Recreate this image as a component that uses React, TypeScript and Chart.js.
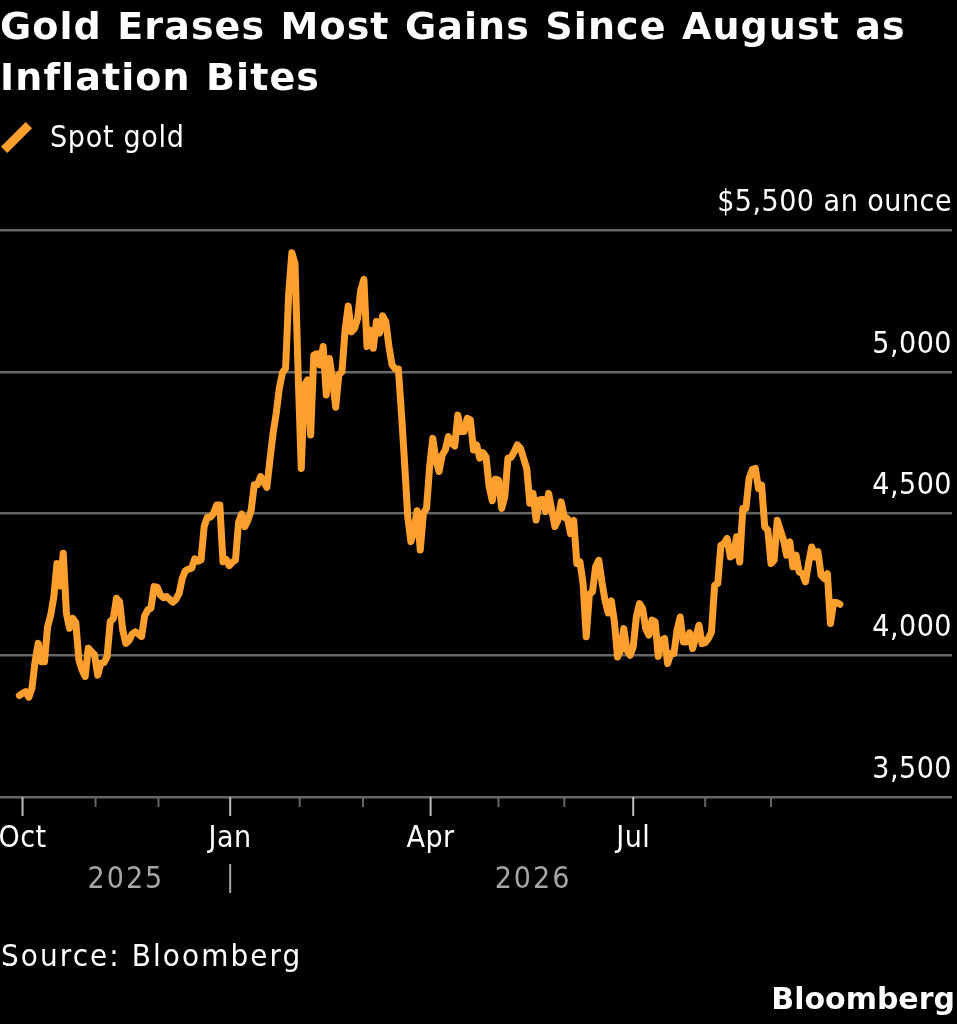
import React, { useEffect, useRef } from 'react';
import Chart from 'chart.js/auto';

const FONT = '"DejaVu Sans Condensed", "DejaVu Sans", sans-serif';
const BOLD_FONT = '"DejaVu Sans", sans-serif';
const GRID = '#666666';
const GOLD = '#ff9f2d';

// one price per weekday, the first one falls one weekday before Oct 1 2025
const firstDay = -1;
const goldPrices = [
  3858, 3866, 3872, 3852, 3883, 3977, 4042, 3977, 3977, 4101, 4142, 4207, 4324, 4244, 4360, 4148, 4095, 4130, 4115, 3983,
  3948, 3925, 4025, 4013, 4001, 3930, 3972, 3974, 3995, 4119, 4130, 4201, 4189, 4089, 4042, 4052, 4075, 4083, 4075, 4066,
  4139, 4160, 4166, 4242, 4240, 4213, 4203, 4207, 4197, 4187, 4197, 4218, 4271, 4298, 4304, 4307, 4340, 4332, 4336, 4454,
  4487, 4487, 4501, 4530, 4530, 4330, 4338, 4316, 4328, 4336, 4471, 4498, 4454, 4477, 4512, 4601, 4601, 4630, 4612, 4592,
  4689, 4783, 4853, 4942, 4997, 5012, 5277, 5420, 5382, 4994, 4659, 4953, 4971, 4777, 5059, 5063, 5024, 5089, 4918, 5047,
  4971, 4875, 4989, 5000, 5147, 5232, 5141, 5153, 5188, 5288, 5326, 5089, 5147, 5083, 5177, 5136, 5197, 5177, 5089, 5024,
  5010, 5010, 4853, 4677, 4489, 4401, 4442, 4510, 4371, 4501, 4518, 4665, 4765, 4689, 4648, 4706, 4724, 4771, 4748, 4738,
  4847, 4789, 4789, 4836, 4830, 4724, 4742, 4695, 4715, 4700, 4595, 4545, 4621, 4618, 4518, 4559, 4695, 4698, 4718, 4742,
  4730, 4695, 4659, 4536, 4571, 4477, 4548, 4550, 4507, 4571, 4512, 4454, 4477, 4541, 4486, 4482, 4429, 4476, 4324, 4329,
  4253, 4065, 4215, 4224, 4312, 4335, 4259, 4194, 4149, 4192, 4118, 3994, 4018, 4094, 4018, 4000, 4029, 4135, 4182, 4165,
  4094, 4071, 4124, 4118, 3996, 4053, 4059, 3971, 4006, 4006, 4088, 4135, 4047, 4047, 4079, 4024, 4065, 4106, 4041, 4045,
  4059, 4082, 4247, 4253, 4388, 4394, 4412, 4347, 4353, 4418, 4329, 4518, 4518, 4624, 4655, 4659, 4588, 4600, 4453, 4441,
  4324, 4335, 4476, 4441, 4406, 4353, 4400, 4312, 4353, 4294, 4288, 4259, 4324, 4382, 4347, 4365, 4282, 4271, 4288, 4112,
  4186, 4186, 4180,
];

// where each month starts on the weekday axis, from Oct 2025 to Sep 2026
const monthDays = [0, 23.3, 43.4, 66.3, 88.5, 108.7, 130.3, 152, 173, 195, 218, 239];
const monthLabels = ['Oct', '', '', 'Jan', '', '', 'Apr', '', '', 'Jul', '', ''];
const yearLabels = ['2025', '2026'];
const yearCenters = [33, 163];
const yearBreak = 66.3;
const priceTicks = [3500, 4000, 4500, 5000, 5500];

const axisExtras = {
  id: 'axisExtras',
  beforeDraw(chart: any) {
    chart.ctx.letterSpacing = '0.5px';
  },
  afterDraw(chart: any) {
    const { ctx, scales } = chart;
    const x = scales.x;
    const base = x.top;
    ctx.save();
    monthDays.forEach((day, i) => {
      const px = x.getPixelForValue(day);
      const major = monthLabels[i] !== '';
      ctx.strokeStyle = major ? '#bdbdbd' : GRID;
      ctx.lineWidth = 2;
      ctx.beginPath();
      ctx.moveTo(px, base);
      ctx.lineTo(px, base + (major ? 19 : 10));
      ctx.stroke();
    });
    ctx.font = '30px ' + FONT;
    ctx.letterSpacing = '2px';
    ctx.fillStyle = '#a6a6a6';
    ctx.textAlign = 'center';
    ctx.textBaseline = 'middle';
    yearLabels.forEach((label, i) => {
      ctx.fillText(label, x.getPixelForValue(yearCenters[i]), base + 83);
    });
    const sep = x.getPixelForValue(yearBreak);
    ctx.strokeStyle = '#a6a6a6';
    ctx.beginPath();
    ctx.moveTo(sep, base + 67);
    ctx.lineTo(sep, base + 96);
    ctx.stroke();
    ctx.restore();
  },
};

function GoldChart() {
  const canvasRef = useRef<HTMLCanvasElement>(null);

  useEffect(() => {
    const chart = new Chart(canvasRef.current, {
      type: 'line',
      data: {
        datasets: [
          {
            label: 'Spot gold',
            data: goldPrices.map((y, i) => ({ x: i + firstDay, y })),
            borderColor: GOLD,
            borderWidth: 7,
            borderJoinStyle: 'round',
            borderCapStyle: 'round',
            pointRadius: 0,
            tension: 0,
          },
        ],
      },
      options: {
        animation: false,
        responsive: false,
        layout: { padding: { top: 230, left: 0, right: 0, bottom: 0 } },
        plugins: { legend: { display: false }, title: { display: false }, tooltip: { enabled: false } },
        scales: {
          x: {
            type: 'linear',
            min: -7.2,
            max: 296.8,
            afterBuildTicks: (scale: any) => {
              scale.ticks = monthDays.map((value) => ({ value }));
            },
            afterFit: (scale: any) => {
              scale.height = 227;
              scale.paddingLeft = 0;
              scale.paddingRight = 0;
            },
            grid: { display: false, drawTicks: false },
            border: { display: false },
            ticks: {
              autoSkip: false,
              maxRotation: 0,
              padding: 24,
              color: '#ffffff',
              font: { family: FONT, size: 30 },
              callback: (value: any) => monthLabels[monthDays.indexOf(value)] ?? '',
            },
          },
          y: {
            type: 'linear',
            position: 'right',
            min: 3500,
            max: 5500,
            afterBuildTicks: (scale: any) => {
              scale.ticks = priceTicks.map((value) => ({ value }));
            },
            afterFit: (scale: any) => {
              scale.width = 5;
            },
            grid: { color: GRID, lineWidth: 2.5, drawTicks: false },
            border: { display: false },
            ticks: {
              mirror: true,
              padding: 0,
              labelOffset: -27,
              color: '#ffffff',
              font: { family: FONT, size: 30 },
              callback: (value: any) =>
                value === 5500 ? '$5,500 an ounce' : value.toLocaleString('en-US'),
            },
          },
        },
      },
      plugins: [axisExtras],
    });
    return () => chart.destroy();
  }, []);

  return <canvas ref={canvasRef} width={957} height={1024} style={{ position: 'absolute', left: 0, top: 0 }} />;
}

const textStyle: React.CSSProperties = {
  position: 'absolute',
  color: '#fff',
  fontFamily: FONT,
  whiteSpace: 'nowrap',
};

export default function App() {
  useEffect(() => {
    document.body.style.margin = '0';
    document.body.style.background = '#000';
  }, []);

  return (
    <div style={{ position: 'relative', width: 957, height: 1024, background: '#000', overflow: 'hidden' }}>
      <GoldChart />
      <div
        style={{
          ...textStyle,
          left: 0,
          top: 1,
          fontFamily: BOLD_FONT,
          fontSize: 38,
          fontWeight: 700,
          lineHeight: '51px',
          letterSpacing: 1.1,
          wordSpacing: 1,
        }}
      >
        Gold Erases Most Gains Since August as
        <br />
        Inflation Bites
      </div>
      <div
        style={{
          position: 'absolute',
          left: -1,
          top: 133,
          width: 35,
          height: 9,
          background: GOLD,
          transform: 'rotate(-45deg)',
        }}
      />
      <div style={{ ...textStyle, left: 50, top: 119, fontSize: 30, letterSpacing: 0.7 }}>Spot gold</div>
      <div style={{ ...textStyle, left: 1, top: 937, fontSize: 31, letterSpacing: 2.1 }}>Source: Bloomberg</div>
      <div style={{ ...textStyle, right: 2, top: 981, fontFamily: BOLD_FONT, fontSize: 30, fontWeight: 700 }}>Bloomberg</div>
    </div>
  );
}
